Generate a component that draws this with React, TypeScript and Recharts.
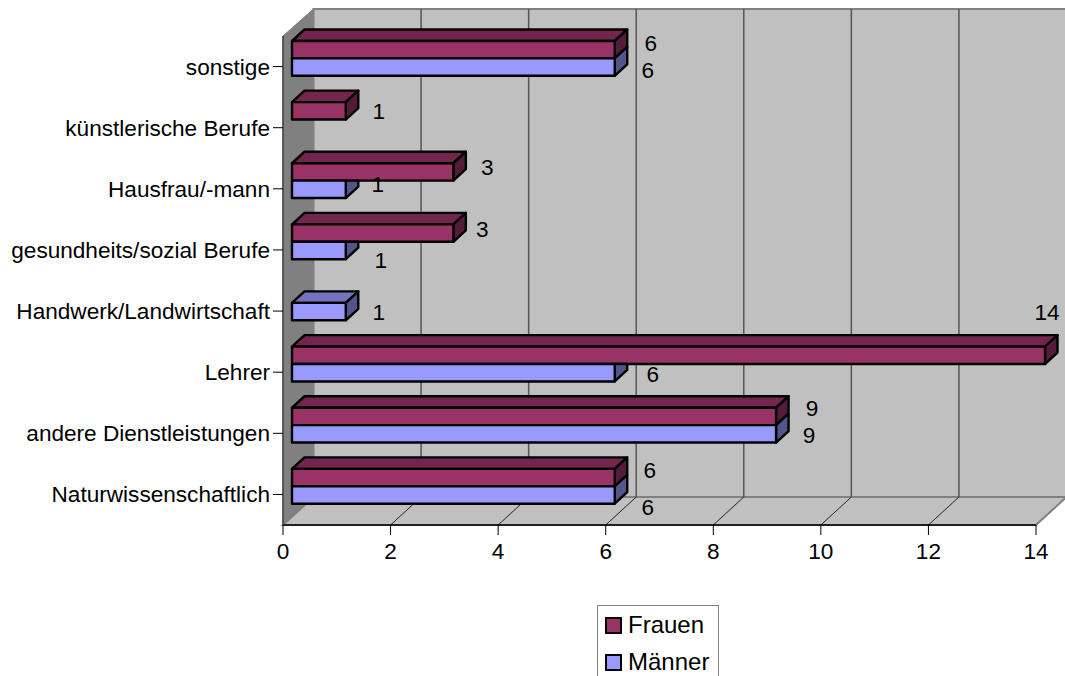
import { BarChart, Bar, XAxis, YAxis, CartesianGrid, Legend, LabelList, usePlotArea } from 'recharts'

const categories = [
  'Naturwissenschaftlich',
  'andere Dienstleistungen',
  'Lehrer',
  'Handwerk/Landwirtschaft',
  'gesundheits/sozial Berufe',
  'Hausfrau/-mann',
  'künstlerische Berufe',
  'sonstige',
]
const maenner = [6, 9, 6, 1, 1, 1, null, 6]
const frauen = [6, 9, 14, null, 3, 3, 1, 6]
const xTicks = [0, 2, 4, 6, 8, 10, 12, 14]
const gridValues = [2, 4, 6, 8, 10, 12, 14]

const data = categories.map((name, i) => ({ name, Männer: maenner[i], Frauen: frauen[i] }))

// hand placed data labels in the original, [dx from bar end, dy from bar centre]
// LabelList skips the empty values, so these only list the bars that exist
const frauenNudge = [[35, -7], [36, -8], [2, -43], [29, -4], [34, -4], [33, 1], [36, -6]]
const maennerNudge = [[33, 13], [33, 2], [38, 2], [33, 1], [35, 10], [32, -5], [33, 3]]

const FONT = '"Liberation Sans", Arial, sans-serif'
const FONT_SIZE = 22.6
const WALL = { dx: 30.5, dy: 28 }
const BAR = { shiftX: 9, shiftY: 8, dx: 12.5, dy: 11.5 }

const darken = (hex: string, k: number) => {
  const n = parseInt(hex.slice(1), 16)
  const c = [(n >> 16) & 255, (n >> 8) & 255, n & 255].map((v) => Math.round(v * k))
  return `rgb(${c[0]},${c[1]},${c[2]})`
}

function Box3D(props: any) {
  const { x, y, width, height, fill, dataKey, payload } = props
  if (!width || width <= 0) return null
  const l = x + BAR.shiftX
  const t = y - BAR.shiftY
  const r = l + width
  const b = t + height
  const { dx, dy } = BAR
  // the lower bar is painted last, so trim what the upper bar hides
  const other = dataKey === 'Männer' ? payload.Frauen : null
  const hideTop = other != null
  const trimSide = other != null && other > payload[dataKey]
  const side = trimSide
    ? `M${r},${t} H${r + dx} V${b - dy} L${r},${b} Z`
    : `M${r},${t} L${r + dx},${t - dy} V${b - dy} L${r},${b} Z`
  return (
    <g stroke="#000" strokeWidth={2.4} strokeLinejoin="round">
      {!hideTop && <path d={`M${l},${t} L${l + dx},${t - dy} H${r + dx} L${r},${t} Z`} fill={darken(fill, 0.75)} />}
      <path d={side} fill={darken(fill, 0.55)} />
      <rect x={l} y={t} width={width} height={height} fill={fill} />
    </g>
  )
}

function Walls() {
  const plot = usePlotArea()
  if (!plot) return null
  const { x, y, width, height } = plot
  const r = x + width
  const b = y + height
  const { dx, dy } = WALL
  return (
    <g>
      <path d={`M${x + dx},${y - dy + 1} H${r + dx} V${b - dy} H${x + dx} Z`} fill="#c0c0c0" stroke="#808080" strokeWidth={2} />
      <path d={`M${x},${b} L${x + dx},${b - dy} H${r + dx} L${r},${b} Z`} fill="#c0c0c0" stroke="#808080" strokeWidth={2} />
      <path d={`M${x},${y} L${x + dx},${y - dy + 1} V${b - dy} L${x},${b} Z`} fill="#808080" stroke="#808080" strokeWidth={1} />
    </g>
  )
}

function GridLine(props: any) {
  const { x1, y1, y2, index } = props
  const top = Math.min(y1, y2)
  const bottom = Math.max(y1, y2)
  if (index === gridValues.length - 1) return <g key={index} />
  return (
    <g key={index} fill="none">
      <line x1={x1} y1={bottom} x2={x1 + WALL.dx} y2={bottom - WALL.dy} stroke="#222" strokeWidth={1} />
      <line x1={x1 + WALL.dx} y1={bottom - WALL.dy} x2={x1 + WALL.dx} y2={top - WALL.dy + 1} stroke="#555" strokeWidth={1.5} />
    </g>
  )
}

const makeLabel = (nudge: number[][]) => (props: any) => {
  const { x, y, width, height, value, index } = props
  if (value == null) return null
  return (
    <text
      x={x + BAR.shiftX + width + nudge[index][0]}
      y={y - BAR.shiftY + height / 2 + nudge[index][1]}
      textAnchor="middle"
      dominantBaseline="central"
      fontFamily={FONT}
      fontSize={FONT_SIZE}
      fill="#000"
    >
      {value}
    </text>
  )
}

function LegendBox({ payload }: any) {
  return (
    <div
      style={{
        width: 122,
        height: 90,
        border: '1px solid #808080',
        background: '#fff',
        fontFamily: FONT,
        fontSize: 24,
        boxSizing: 'border-box',
        position: 'relative',
      }}
    >
      {(payload || []).map((p: any, i: number) => (
        <div key={p.value} style={{ position: 'absolute', left: 7, top: 10 + i * 37, display: 'flex', alignItems: 'center', height: 18 }}>
          <span style={{ width: 13, height: 13, flex: 'none', background: p.color, border: '2px solid #000', marginRight: 6, display: 'inline-block' }} />
          <span>{p.value}</span>
        </div>
      ))}
    </div>
  )
}

export default function App() {
  return (
    <div style={{ position: 'absolute', left: 0, top: 0, width: 1065, height: 676, overflow: 'hidden', background: '#fff' }}>
      <BarChart
        width={1065}
        height={676}
        data={data}
        layout="vertical"
        barSize={17.4}
        barGap={0}
        margin={{ top: 36, right: 29, bottom: 101, left: 0 }}
        style={{ overflow: 'hidden' }}
      >
        <CartesianGrid horizontal={false} vertical={(() => <Walls />) as any} verticalValues={[0]} />
        <CartesianGrid horizontal={false} vertical={GridLine as any} verticalValues={gridValues} />
        <XAxis
          type="number"
          domain={[0, 14]}
          ticks={xTicks}
          height={50}
          interval={0}
          tickSize={10}
          tickMargin={8}
          tick={{ fill: '#000', fontFamily: FONT, fontSize: FONT_SIZE }}
          axisLine={{ stroke: '#000', strokeWidth: 1.5 }}
          tickLine={{ stroke: '#000' }}
        />
        <YAxis
          type="category"
          dataKey="name"
          reversed
          width={283}
          interval={0}
          tickSize={10}
          tickMargin={3}
          tick={{ fill: '#000', fontFamily: FONT, fontSize: FONT_SIZE }}
          axisLine={{ stroke: '#404040', strokeWidth: 1.5 }}
          tickLine={{ stroke: '#000' }}
        />
        <Legend
          layout="vertical"
          align="center"
          verticalAlign="middle"
          content={LegendBox as any}
          wrapperStyle={{ left: 597, top: 605, width: 122, margin: 0 }}
        />
        <Bar dataKey="Frauen" fill="#993366" shape={Box3D} isAnimationActive={false}>
          <LabelList dataKey="Frauen" content={makeLabel(frauenNudge) as any} />
        </Bar>
        <Bar dataKey="Männer" fill="#9999ff" shape={Box3D} isAnimationActive={false}>
          <LabelList dataKey="Männer" content={makeLabel(maennerNudge) as any} />
        </Bar>
      </BarChart>
    </div>
  )
}
